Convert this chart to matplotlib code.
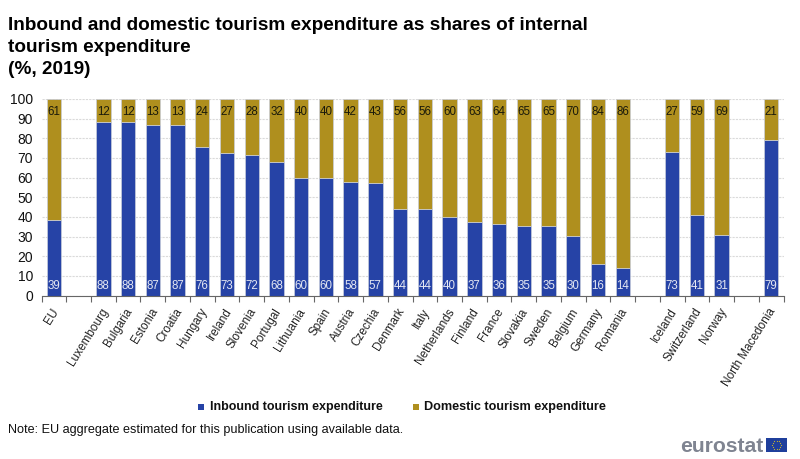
"""
Inbound and domestic tourism expenditure, stacked shares by country.
"""
import numpy as np
import matplotlib
matplotlib.use("Agg")
import matplotlib.pyplot as plt
from matplotlib.patches import Rectangle

countries = ["EU", "", "Luxembourg", "Bulgaria", "Estonia", "Croatia", "Hungary", "Ireland",
             "Slovenia", "Portugal", "Lithuania", "Spain", "Austria", "Czechia", "Denmark",
             "Italy", "Netherlands", "Finland", "France", "Slovakia", "Sweden", "Belgium",
             "Germany", "Romania", "", "Iceland", "Switzerland", "Norway", "", "North Macedonia"]
inbound = [38.6, None, 88.2, 88.2, 87.0, 86.9, 75.7, 72.7, 71.6, 67.8, 60.0, 59.8, 57.6, 57.4,
           44.2, 43.8, 39.8, 37.3, 36.2, 35.2, 35.2, 30.2, 16.2, 14.0, None, 73.0, 41.2, 30.6,
           None, 79.3]
inbound_labels = ["39", "", "88", "88", "87", "87", "76", "73", "72", "68", "60", "60", "58", "57",
                  "44", "44", "40", "37", "36", "35", "35", "30", "16", "14", "", "73", "41", "31",
                  "", "79"]
domestic_labels = ["61", "", "12", "12", "13", "13", "24", "27", "28", "32", "40", "40", "42", "43",
                   "56", "56", "60", "63", "64", "65", "65", "70", "84", "86", "", "27", "59", "69",
                   "", "21"]

BLUE = "#2643A6"
GOLD = "#AF8F1E"
EDGE = "#C9CEDC"

plt.rcParams["font.family"] = ["Liberation Sans", "DejaVu Sans"]

W, H = 800, 459
fig = plt.figure(figsize=(W / 100, H / 100), dpi=100, facecolor="white")
ax = fig.add_axes([41.5 / W, 1 - 295.5 / H, 742 / W, 196.5 / H])

x = np.arange(len(countries))
has_bar = [v is not None for v in inbound]
xb = x[has_bar]
inb = np.array([v for v in inbound if v is not None])

ax.bar(xb, inb, width=0.58, color=BLUE, edgecolor=EDGE, linewidth=0.5, zorder=3)
ax.bar(xb, 100 - inb, bottom=inb, width=0.58, color=GOLD, edgecolor=EDGE, linewidth=0.5, zorder=3)

for xi, lab_in, lab_dom in zip(x, inbound_labels, domestic_labels):
    if lab_in:
        ax.text(xi, 4.8, lab_in, ha="center", va="center", fontsize=8.3, color="#E4E7F2", zorder=4)
        ax.text(xi, 93.6, lab_dom, ha="center", va="center", fontsize=8.3, color="#1A1A0A", zorder=4)

ax.set_xlim(-0.5, len(countries) - 0.5)
ax.set_ylim(0, 100)
ax.set_yticks(range(0, 101, 10))
ax.tick_params(axis="y", length=0, labelsize=10, pad=6, colors="#111111")
ax.tick_params(axis="x", length=4, width=0.8, color="#666666")
ax.set_xticks(list(x - 0.5) + [len(countries) - 0.5])
ax.set_xticklabels([])

for xi, name in zip(x, countries):
    if name:
        ax.annotate(name, xy=(xi, 0), xycoords=("data", "axes fraction"),
                    xytext=(1.5, -10), textcoords="offset points",
                    rotation=58, ha="right", va="center", rotation_mode="anchor",
                    fontsize=8.5, color="#222222")

ax.grid(axis="y", color="#DADADA", linestyle=(0, (2, 1)), linewidth=0.8, zorder=0)
ax.set_axisbelow(True)
for side in ["top", "right", "left"]:
    ax.spines[side].set_visible(False)
ax.spines["bottom"].set_color("#666666")
ax.spines["bottom"].set_linewidth(0.8)
ax.spines["bottom"].set_zorder(5)

# title, in three lines
for y_px, line in [(25, "Inbound and domestic tourism expenditure as shares of internal"),
                   (47, "tourism expenditure"),
                   (69, "(%, 2019)")]:
    fig.text(8 / W, 1 - y_px / H, line, fontsize=13.7, fontweight="bold", va="center", color="black")

# legend
fig.patches.append(Rectangle((198 / W, 1 - 410 / H), 6 / W, 6 / H, transform=fig.transFigure,
                             facecolor=BLUE, edgecolor="none"))
fig.text(210 / W, 1 - 407 / H, "Inbound tourism expenditure", fontsize=9.0, fontweight="bold",
         va="center", color="#111111")
fig.patches.append(Rectangle((413 / W, 1 - 410 / H), 6 / W, 6 / H, transform=fig.transFigure,
                             facecolor=GOLD, edgecolor="none"))
fig.text(424 / W, 1 - 407 / H, "Domestic tourism expenditure", fontsize=9.05, fontweight="bold",
         va="center", color="#111111")

fig.text(8 / W, 1 - 430 / H, "Note: EU aggregate estimated for this publication using available data.",
         fontsize=9.1, va="center", color="#111111")

# eurostat logo with flag
fig.text(680 / W, 1 - 446 / H, "eurostat", fontsize=15.2, fontweight="bold", va="center",
         color="#7F8491")
flag = fig.add_axes([766 / W, 1 - 452 / H, 21 / W, 14 / H])
flag.set_xlim(-1.5, 1.5)
flag.set_ylim(-1, 1)
flag.set_facecolor("#1F3F9C")
flag.set_xticks([])
flag.set_yticks([])
for side in flag.spines.values():
    side.set_visible(False)
angles = np.arange(12) * np.pi / 6
flag.scatter(0.62 * np.cos(angles), 0.62 * np.sin(angles), s=0.8, color="#C9B22E", linewidths=0)

fig.savefig("out.png", dpi=100, facecolor="white")
plt.close()
